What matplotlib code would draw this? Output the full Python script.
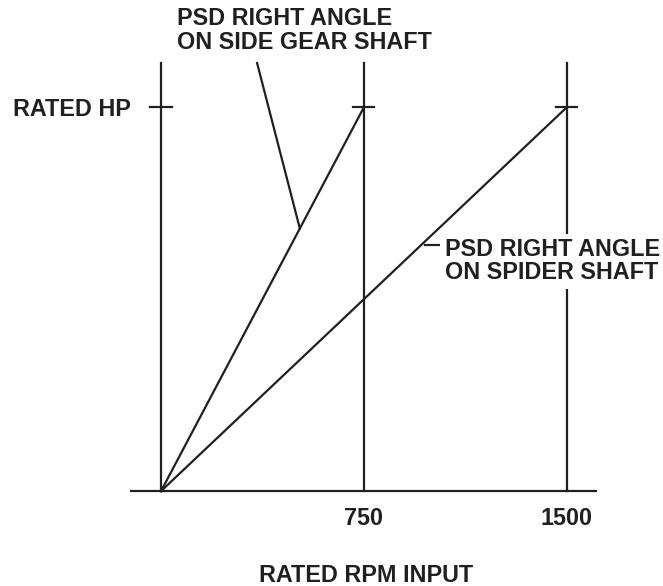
import matplotlib.pyplot as plt

# rated RPM input for each drive arrangement, hp as fraction of rated
rpm_ticks = [750, 1500]
rpm_labels = ["750", "1500"]
side_gear_rpm = [0, 750]
side_gear_hp = [0, 1.0]
spider_rpm = [0, 1500]
spider_hp = [0, 1.0]
rated_hp = 1.0

plt.rcParams["font.family"] = ["Liberation Sans", "DejaVu Sans"]
plt.rcParams["font.weight"] = "bold"

fig = plt.figure(figsize=(6.63, 5.86), dpi=100)
ax = fig.add_axes([0, 0, 1, 1])
ax.set_xlim(-595, 1855)
ax.set_ylim(-0.247, 1.279)
ax.axis("off")

lc = "#231f20"
lw = 1.6
top = 1.116

# axes frame and the two rated-rpm verticals
ax.plot([-114, 1611], [0, 0], color=lc, lw=lw, solid_capstyle="butt")
ax.plot([0, 0], [0, top], color=lc, lw=lw)
for r in rpm_ticks:
    ax.plot([r, r], [0, top], color=lc, lw=lw)
    ax.plot([r - 40, r + 37], [rated_hp, rated_hp], color=lc, lw=lw)
ax.plot([-40, 40], [rated_hp, rated_hp], color=lc, lw=lw)

# the two rating lines
ax.plot(side_gear_rpm, side_gear_hp, color=lc, lw=lw)
ax.plot(spider_rpm, spider_hp, color=lc, lw=lw)

fs = 16.8
for r, lab in zip(rpm_ticks, rpm_labels):
    ax.text(r, -0.042, lab, ha="center", va="top", fontsize=fs, color=lc)
ax.text(-112, 0.993, "RATED HP", ha="right", va="center", fontsize=fs, color=lc)
ax.text(757, -0.19, "RATED RPM INPUT", ha="center", va="top", fontsize=fs, color=lc)

# side gear label with leader to its line
ax.text(58, 1.262, "PSD RIGHT ANGLE\nON SIDE GEAR SHAFT", ha="left", va="top",
        fontsize=fs, color=lc, linespacing=1.08)
ax.plot([355, 513], [1.115, 513 / 750], color=lc, lw=lw)

# spider label, white box masks the 1500 vertical
ax.plot([975, 1036], [0.641, 0.641], color=lc, lw=lw)
ax.text(1048, 0.658, "PSD RIGHT ANGLE\nON SPIDER SHAFT", ha="left", va="top",
        fontsize=fs, color=lc, linespacing=1.0, zorder=5,
        bbox=dict(boxstyle="square,pad=0.2", fc="white", ec="none"))

fig.savefig("out.png", dpi=100)
